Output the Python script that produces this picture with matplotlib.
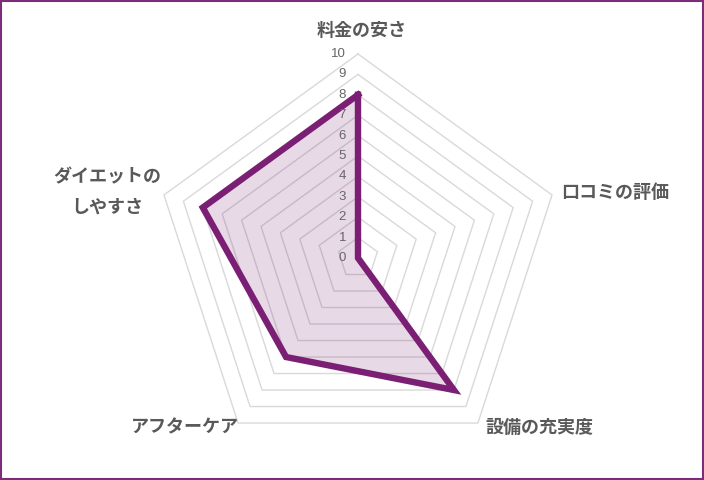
import numpy as np
import matplotlib
matplotlib.use("Agg")
import matplotlib.pyplot as plt
from matplotlib.patches import Rectangle

plt.rcParams["font.family"] = ["Noto Sans CJK JP", "DejaVu Sans"]

categories = ["料金の安さ", "口コミの評価", "設備の充実度", "アフターケア", "ダイエットの\nしやすさ"]
values = [8, 0, 8, 6, 8]
ring_levels = list(range(0, 11))

LINE = "#7a1f73"
FILL = "#7a1f73"
GRID = "#d9d9d9"
TXT = "#595959"
BORDER = "#7b2d7b"

W, H = 704, 480
cx, cy = 358, 258          # pixel centre of the radar
unit = 20.4                # pixels per value unit

fig = plt.figure(figsize=(W / 100, H / 100), dpi=100)
ax = fig.add_axes([0, 0, 1, 1])
ax.set_xlim(-cx / unit, (W - cx) / unit)
ax.set_ylim(-(H - cy) / unit, cy / unit)
ax.axis("off")

n = len(categories)
ang = np.pi / 2 - np.arange(n) * 2 * np.pi / n
ux, uy = np.cos(ang), np.sin(ang)

# pentagon grid rings
for r in ring_levels[1:]:
    ax.plot(np.append(ux, ux[0]) * r, np.append(uy, uy[0]) * r,
            color=GRID, lw=1.0, zorder=1)

# tick labels along the top axis
for r in ring_levels:
    ax.text(-12 / unit, r, str(r), ha="right", va="center",
            fontsize=9.5, color="#666666", family=["Liberation Sans"], zorder=4)

# data polygon
v = np.array(values, dtype=float)
px, py = np.append(ux * v, ux[0] * v[0]), np.append(uy * v, uy[0] * v[0])
ax.fill(px, py, color=FILL, alpha=0.17, lw=0, zorder=2)
ax.plot(px, py, color=LINE, lw=4.6, solid_joinstyle="miter", zorder=3)

# category labels (pixel positions converted to data units)
label_pos = [(362, 30), (615, 192), (539, 427), (185, 427), (107, 192)]
for lab, (lx, ly) in zip(categories, label_pos):
    ax.text((lx - cx) / unit, (cy - ly) / unit, lab, ha="center", va="center",
            fontsize=13, fontweight="bold", color=TXT, linespacing=1.7)

fig.patches.append(Rectangle((0.001, 0.002), 0.997, 0.996, transform=fig.transFigure,
                             fill=False, edgecolor=BORDER, lw=1.5))
fig.savefig("out.png", dpi=100, facecolor="white")
